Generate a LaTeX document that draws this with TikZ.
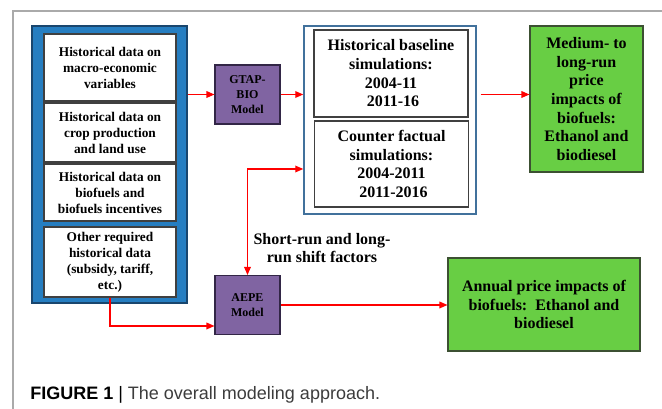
\documentclass[tikz,border=0pt]{standalone}
\usepackage{fontspec}
\setmainfont{Liberation Serif}
\newfontfamily\capfont{Liberation Sans}
\usetikzlibrary{arrows.meta}
\definecolor{panelblue}{RGB}{38,126,193}
\definecolor{modelpurple}{RGB}{128,100,162}
\definecolor{resultgreen}{RGB}{104,206,68}
\definecolor{simframe}{RGB}{65,113,156}
\tikzset{
  databox/.style={draw={rgb,255:red,64;green,64;blue,64},fill=white,line width=0.8pt,
    minimum width=99pt,align=center,font=\bfseries\fontsize{10}{12}\selectfont,inner sep=1pt},
  modelbox/.style={draw={rgb,255:red,50;green,38;blue,70},fill=modelpurple,line width=0.8pt,
    minimum width=48.75pt,minimum height=44.25pt,align=center,font=\bfseries\fontsize{9}{11}\selectfont,inner sep=1pt},
  simbox/.style={draw={rgb,255:red,64;green,64;blue,64},fill=white,line width=0.8pt,
    minimum width=115.5pt,align=center,font=\bfseries\fontsize{12}{14}\selectfont,inner sep=1pt},
  resultbox/.style={draw={rgb,255:red,60;green,80;blue,50},fill=resultgreen,line width=0.8pt,
    align=center,font=\bfseries\fontsize{12}{14}\selectfont,inner sep=1pt},
  flow/.style={color=red,line width=0.9pt,-{Triangle[length=6pt,width=5pt]}},
}
\begin{document}
\begin{tikzpicture}[x=0.75pt,y=0.75pt,yscale=-1,xscale=1]
        \useasboundingbox (0,0) rectangle (662,409);
        % Frame
        \draw [color={rgb, 255:red, 170; green, 170; blue, 170 }, line width=1.4pt] (13,409) -- (13,11) -- (662,11) ;
        % Data panel
        \node (panel) at (109.5,164.5) [draw={rgb,255:red,25;green,70;blue,110}, fill=panelblue, line width=0.8pt, minimum width=116.25pt, minimum height=207.75pt] {};
        \node (macro) at (110,67.5) [databox, minimum height=50.25pt] {Historical data on\\macro-economic\\variables};
        \node (crop) at (110,132.5) [databox, minimum height=44.25pt] {Historical data on\\crop production\\and land use};
        \node (incent) at (110,192.5) [databox, minimum height=42.75pt] {Historical data on\\biofuels and\\biofuels incentives};
        \node (other) at (110,262) [databox, minimum height=52.5pt] {Other required\\historical data\\(subsidy, tariff,\\etc.)};
        % Models
        \node (gtap) at (247.5,94.5) [modelbox] {GTAP-\\BIO\\Model};
        \node (aepe) at (247.5,305) [modelbox] {AEPE\\Model};
        % Simulations
        \node (sims) at (390,120) [draw=simframe, fill=white, line width=1.1pt, minimum width=129pt, minimum height=141pt] {};
        \node (base) at (391,73.5) [simbox, minimum height=65.25pt] {Historical baseline\\simulations:\\2004-11\\\ 2011-16};
        \node (counter) at (391.5,164) [simbox, minimum height=64.5pt] {Counter factual\\simulations:\\2004-2011\\\ 2011-2016};
        % Results
        \node (longrun) at (586.5,99) [resultbox, minimum width=84.75pt, minimum height=109.5pt] {Medium- to\\long-run\\price\\impacts of\\biofuels:\\Ethanol and\\biodiesel};
        \node (annual) at (544,304.5) [resultbox, minimum width=144pt, minimum height=69.75pt] {Annual price impacts of\\biofuels:\ \ Ethanol and\\biodiesel};
        % Text Node
        \node (shift) at (322,248) [align=center, font=\bfseries\fontsize{12}{14}\selectfont] {Short-run and long-\\run shift factors};
        % Connection
        \draw [flow] (gtap.west -| panel.east) -- (gtap.west) ;
        \draw [flow] (gtap.east) -- (gtap.east -| sims.west) ;
        \draw [flow] ([xshift=3pt]gtap.east -| sims.east) -- (gtap.east -| longrun.west) ;
        \draw [flow, {Triangle[length=6pt,width=5pt]}-{Triangle[length=6pt,width=5pt]}] ([yshift=36.75pt]sims.west) -| (aepe.north) ;
        \draw [flow] (other.south) |- ([yshift=15.75pt]aepe.west) ;
        \draw [flow] (aepe.east) -- (aepe.east -| annual.west) ;
        % Caption
        \node (caption) at (30,395) [anchor=west, inner sep=0pt, font=\capfont\fontsize{13.5}{16}\selectfont] {\textbf{FIGURE 1} | \textcolor[RGB]{60,60,60}{The overall modeling approach.}};
    \end{tikzpicture}
\end{document}
